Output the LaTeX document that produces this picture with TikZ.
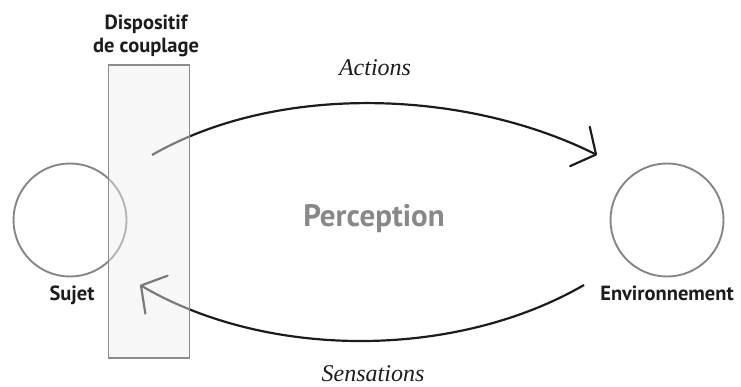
\documentclass[tikz,border=0pt]{standalone}
\usepackage{fontspec}
\setmainfont{Liberation Serif}
\newfontfamily\labfont{PT Sans}
\usetikzlibrary{arrows.meta}
\definecolor{ringgray}{HTML}{858585}
\definecolor{rectgray}{HTML}{8C8C8C}
\definecolor{rectfill}{HTML}{EEEEEE}
\definecolor{percgray}{HTML}{888888}
\definecolor{labblack}{HTML}{1C1C1C}
\begin{document}
\begin{tikzpicture}[x=1pt,y=-1pt,
  ring/.style={circle, draw=ringgray, line width=1.9pt, minimum size=113pt, inner sep=0pt},
  lab/.style={font=\labfont\bfseries\fontsize{20.5}{23}\selectfont, text=labblack, inner sep=0pt, anchor=base},
  flow/.style={line width=2.2pt, draw=labblack, -{Straight Barb[length=18pt,width=44pt,round]}},
  ital/.style={font=\itshape\fontsize{24}{28}\selectfont, text=labblack, inner sep=0pt, anchor=base},
  coupler/.style={draw=rectgray, line width=1.6pt, fill=rectfill, fill opacity=0.45, minimum width=81pt, minimum height=293pt, inner sep=0pt}]
\useasboundingbox (0,0) rectangle (741,387);
% circles
\node[ring] (sujet) at (70,220) {};
\node[ring] (env) at (667,220) {};
% arc end points
\coordinate (a1s) at (152,155);
\coordinate (a1e) at (597,155);
\coordinate (a2s) at (584,285);
\coordinate (a2e) at (140,285);
% connectors
\draw[flow] (a1s) .. controls (279,82) and (467,90) .. (a1e);
\draw[flow] (a2s) .. controls (456,359) and (268,360) .. (a2e);
% coupling device on top
\node[coupler] (dev) at (149,211.5) {};
% labels
\node[lab] (devlab1) at (146,30) {Dispositif};
\node[lab] (devlab2) at (146,53) {de couplage};
\node[lab] (sujlab) at (72,300) {Sujet};
\node[lab] (envlab) at (667,300) {Environnement};
\node[font=\labfont\bfseries\fontsize{31}{36}\selectfont, text=percgray, inner sep=0pt, anchor=base] (perc) at (374,227) {Perception};
\node[ital] (act) at (375,76) {Actions};
\node[ital] (sens) at (373,381) {Sensations};
\end{tikzpicture}
\end{document}
